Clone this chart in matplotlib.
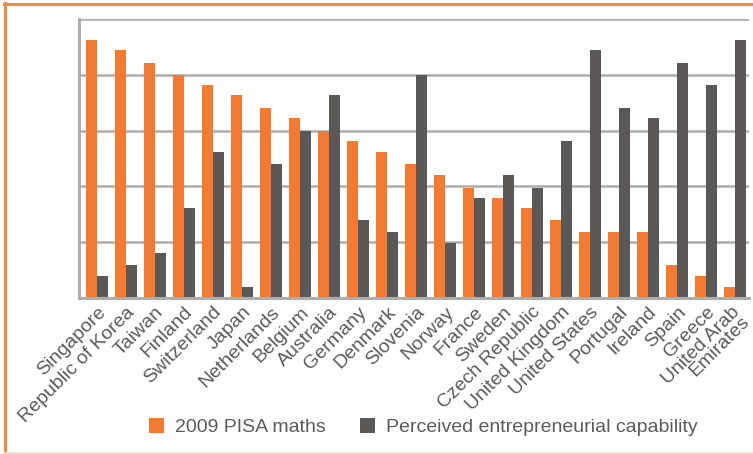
import matplotlib
matplotlib.use("Agg")
import matplotlib.pyplot as plt
import numpy as np
from matplotlib.lines import Line2D
from matplotlib.transforms import ScaledTranslation

countries = ["Singapore", "Republic of Korea", "Taiwan", "Finland", "Switzerland",
             "Japan", "Netherlands", "Belgium", "Australia", "Germany", "Denmark",
             "Slovenia", "Norway", "France", "Sweden", "Czech Republic",
             "United Kingdom", "United States", "Portugal", "Ireland", "Spain",
             "Greece", "United Arab\nEmirates"]
pisa_maths = [4.63, 4.44, 4.22, 3.99, 3.81, 3.63, 3.41, 3.22, 2.99, 2.81, 2.61,
              2.41, 2.21, 1.98, 1.80, 1.61, 1.39, 1.19, 1.19, 1.19, 0.585, 0.39, 0.19]
entrepreneurial = [0.39, 0.585, 0.80, 1.61, 2.61, 0.19, 2.41, 2.99, 3.63, 1.39, 1.19,
                   3.99, 0.98, 1.80, 2.21, 1.98, 2.81, 4.44, 3.40, 3.22, 4.22, 3.81, 4.63]
series_names = ["2009 PISA maths", "Perceived entrepreneurial capability"]

ORANGE = "#F47A31"
DARK = "#5A5957"
GRID = "#ADADAD"
TEXT = "#5B5B5B"

plt.rcParams['font.family'] = ['Liberation Sans', 'DejaVu Sans']

fig = plt.figure(figsize=(7.53, 4.54), dpi=100)
W, H = 753, 454
ax = fig.add_axes([79 / W, (H - 298) / H, (749 - 79) / W, (298 - 19) / H])

x = np.arange(len(countries))
bw = 11 / 29
ax.bar(x - bw / 2, pisa_maths, width=bw, color=ORANGE, label=series_names[0], zorder=3)
ax.bar(x + bw / 2, entrepreneurial, width=bw, color=DARK, label=series_names[1], zorder=3)

ax.set_xlim(-0.62, 22.48)
ax.set_ylim(0, 5)
ax.set_yticks(np.arange(0, 6, 1))
ax.set_yticklabels([])
ax.tick_params(axis='y', length=0)
ax.tick_params(axis='x', length=0, pad=4)
ax.yaxis.grid(True, color=GRID, linewidth=1.8, zorder=0)
ax.set_axisbelow(True)
for s in ['top', 'right']:
    ax.spines[s].set_visible(False)
for s in ['left', 'bottom']:
    ax.spines[s].set_color(GRID)
    ax.spines[s].set_linewidth(2.2)
    ax.spines[s].set_zorder(4)

ax.set_xticks(x)
labels = ax.set_xticklabels(countries, rotation=45, ha='right', va='top',
                            rotation_mode='anchor', fontsize=14, color=TEXT,
                            multialignment='right', linespacing=0.72)
last = labels[-1]
last.set_transform(last.get_transform() + ScaledTranslation(-4 / 100, 0, fig.dpi_scale_trans))

leg = fig.legend(loc='center', bbox_to_anchor=(423 / W, (H - 427) / H), ncol=2,
                 frameon=False, fontsize=14, labelcolor=TEXT, handlelength=0.8,
                 handleheight=0.8, handletextpad=0.55, columnspacing=1.75)

# border
fig.add_artist(Line2D([5 / W, 5 / W], [2 / H, (H - 3) / H], color="#F58A3E", lw=2.2,
                      transform=fig.transFigure))
fig.add_artist(Line2D([4 / W, 1.0], [(H - 4) / H, (H - 4) / H], color="#F58A3E", lw=2.2,
                      transform=fig.transFigure))
fig.add_artist(Line2D([4 / W, 1.0], [1.5 / H, 1.5 / H], color="#FCDCC4", lw=1.2,
                      transform=fig.transFigure))

fig.savefig("out.png", dpi=100)
